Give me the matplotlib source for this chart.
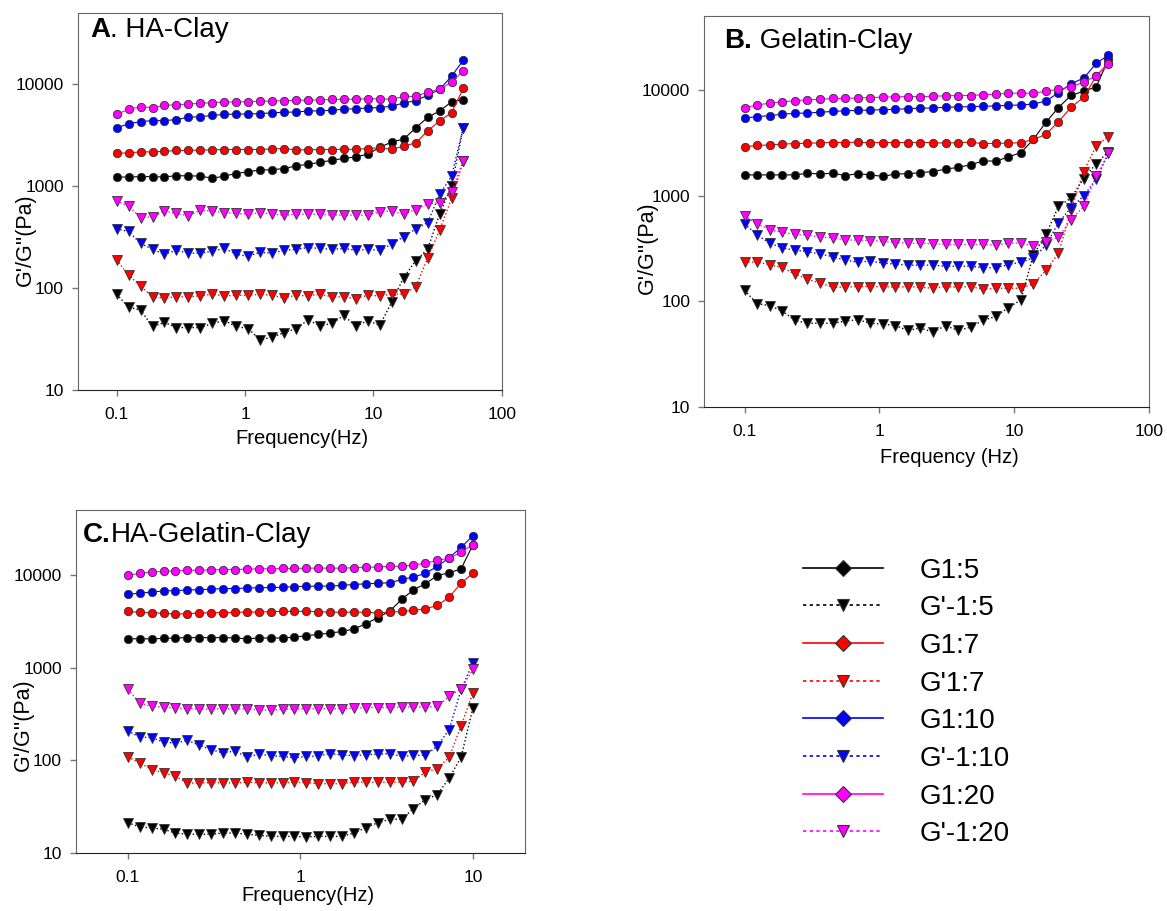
import matplotlib
matplotlib.use("Agg")
import matplotlib.pyplot as plt
from matplotlib.lines import Line2D
from matplotlib.ticker import NullLocator

plt.rcParams['font.family'] = ['Liberation Sans', 'DejaVu Sans']

# frequency sweeps (Hz)
freq_ab = [0.1, 0.1239, 0.1536, 0.1903, 0.2358, 0.2922, 0.3621, 0.4487, 0.5561, 0.6891,
           0.8539, 1.058, 1.311, 1.625, 2.013, 2.495, 3.092, 3.831, 4.748, 5.883,
           7.290, 9.034, 11.19, 13.87, 17.19, 21.30, 26.40, 32.71, 40.54, 50.0]
freq_c = [0.1, 0.1172, 0.1374, 0.1610, 0.1887, 0.2212, 0.2593, 0.3039, 0.3562, 0.4175,
          0.4894, 0.5736, 0.6723, 0.7880, 0.9237, 1.083, 1.269, 1.487, 1.743, 2.043,
          2.395, 2.807, 3.290, 3.857, 4.520, 5.298, 6.210, 7.279, 8.532, 10.0]

# A. HA-Clay
a_g_5 = [1230, 1230, 1240, 1240, 1230, 1270, 1260, 1260, 1190, 1260, 1330, 1390, 1440, 1450, 1490,
         1580, 1640, 1710, 1800, 1870, 1940, 2060, 2400, 2720, 2890, 3730, 4720, 5480, 6710, 7080]
a_gpp_5 = [87, 65, 61, 42, 46, 41, 41, 41, 45, 48, 42, 40, 31, 33, 36.5,
           40, 48.6, 42.7, 45, 54, 42, 48, 43, 73, 127, 185, 241, 531, 1007, 3760]
a_g_7 = [2100, 2120, 2170, 2170, 2200, 2240, 2240, 2260, 2270, 2290, 2290, 2290, 2290, 2320, 2340,
         2270, 2270, 2290, 2290, 2300, 2300, 2340, 2380, 2300, 2470, 2660, 3480, 4370, 5280, 9100]
a_gpp_7 = [190, 134, 105, 82, 80, 82, 82, 84, 87, 84, 85, 85, 87, 85, 80,
           85, 84, 87, 82, 82, 79, 85, 84, 87, 87, 103, 196, 370, 757, 1750]
a_g_10 = [3730, 4100, 4300, 4400, 4400, 4500, 4750, 4800, 4950, 5050, 5100, 5100, 5150, 5250, 5300,
          5350, 5450, 5500, 5550, 5700, 5750, 5850, 5900, 6100, 6550, 6900, 7800, 8900, 12000, 17200]
a_gpp_10 = [380, 360, 275, 240, 215, 235, 220, 220, 230, 245, 215, 205, 225, 220, 235,
            240, 250, 245, 240, 245, 235, 240, 235, 270, 320, 380, 440, 830, 1250, 3760]
a_g_20 = [5050, 5700, 6000, 5900, 6200, 6300, 6400, 6500, 6600, 6700, 6700, 6750, 6800, 6850, 6900,
          6950, 7000, 7000, 7100, 7100, 7150, 7200, 7200, 7100, 7600, 7600, 8400, 8900, 10500, 13500]
a_gpp_20 = [710, 640, 490, 500, 570, 540, 510, 580, 570, 550, 540, 530, 550, 530, 520,
            530, 530, 530, 520, 520, 520, 520, 560, 570, 530, 590, 670, 690, 880, 1770]

# B. Gelatin-Clay
b_g_5 = [1570, 1570, 1570, 1570, 1570, 1630, 1600, 1630, 1550, 1610, 1570, 1520, 1600, 1610, 1650,
         1690, 1780, 1850, 1960, 2130, 2120, 2320, 2550, 3400, 4950, 6800, 8900, 9700, 10700, 19400]
b_gpp_5 = [127, 95, 91, 81, 66, 62, 62, 62, 65, 67, 62, 61, 59, 53, 56,
           51, 59, 53, 57, 66, 72, 87, 103, 275, 430, 790, 950, 1450, 2000, 2600]
b_g_7 = [2900, 2980, 3020, 3070, 3110, 3130, 3160, 3180, 3180, 3200, 3160, 3180, 3180, 3180, 3180,
         3180, 3130, 3180, 3200, 3100, 3130, 3130, 3170, 3400, 3800, 5000, 6850, 8500, 13500, 18100]
b_gpp_7 = [235, 235, 222, 209, 181, 162, 149, 136, 136, 138, 138, 138, 136, 138, 136,
           133, 138, 136, 138, 130, 133, 133, 133, 146, 196, 285, 730, 1690, 2950, 3620]
b_g_10 = [5400, 5600, 5700, 5900, 6000, 6050, 6150, 6250, 6350, 6400, 6450, 6500, 6550, 6650, 6700,
          6750, 6850, 6900, 6950, 7000, 7050, 7150, 7200, 7350, 7850, 9400, 11500, 12900, 17800, 21400]
b_gpp_10 = [540, 425, 355, 320, 305, 295, 280, 265, 245, 235, 240, 230, 225, 220, 220,
            220, 215, 215, 215, 208, 208, 222, 235, 258, 340, 556, 770, 990, 1430, 2520]
b_g_20 = [6800, 7200, 7500, 7700, 7900, 8050, 8150, 8300, 8300, 8400, 8450, 8550, 8600, 8650, 8650,
          8700, 8800, 8850, 8850, 9000, 9100, 9300, 9300, 9300, 9750, 10100, 10700, 11800, 13600, 17400]
b_gpp_20 = [645, 540, 475, 450, 430, 425, 405, 400, 380, 380, 375, 370, 360, 355, 355,
            350, 345, 345, 345, 345, 340, 355, 355, 335, 365, 405, 590, 790, 1530, 2520]

# C. HA-Gelatin-Clay
c_g_5 = [2040, 2040, 2040, 2060, 2080, 2100, 2100, 2100, 2100, 2080, 2040, 2080, 2080, 2080, 2130,
         2200, 2280, 2350, 2450, 2600, 2970, 3450, 4050, 5420, 6890, 8000, 9820, 10500, 11600, 21100]
c_gpp_5 = [21.2, 19.1, 18.6, 18.0, 16.4, 15.9, 15.9, 15.9, 16.4, 16.4, 15.9, 15.5, 15.1, 15.1, 15.1,
           14.9, 15.1, 15.1, 15.1, 16.4, 18.8, 21.2, 23.1, 23.1, 30.1, 37.6, 42.5, 64.3, 108, 369]
c_g_7 = [4030, 3930, 3900, 3840, 3770, 3800, 3870, 3900, 3900, 3930, 3960, 3960, 4000, 4030, 4030,
         4030, 4000, 3950, 3950, 3950, 3950, 3890, 3950, 4020, 4120, 4300, 4670, 5740, 8120, 10400]
c_gpp_7 = [108, 94, 79, 73.5, 67, 56.8, 56.8, 57.3, 57.3, 56.8, 57.8, 57.3, 56.8, 57.3, 57.8,
           57.3, 55.9, 55.9, 55.9, 58.2, 57.8, 57.8, 57.8, 58.2, 59.3, 74.7, 81.1, 108, 234, 535]
c_g_10 = [6150, 6350, 6500, 6700, 6750, 6850, 6900, 7000, 7100, 7100, 7200, 7250, 7300, 7300, 7450,
          7500, 7550, 7550, 7700, 7850, 8000, 8100, 8200, 8900, 9450, 10400, 12300, 15300, 19700, 26500]
c_gpp_10 = [207, 178, 175, 157, 153, 164, 145, 130, 120, 126, 108, 116, 112, 110, 106,
            110, 111, 118, 114, 112, 115, 116, 118, 110, 113, 113, 142, 214, 580, 1130]
c_g_20 = [9850, 10400, 10700, 10900, 11000, 11200, 11200, 11300, 11400, 11400, 11500, 11600, 11600, 11700, 11700,
          11800, 11800, 11800, 11800, 11900, 12100, 12100, 12400, 12300, 12800, 13300, 14300, 15100, 17500, 21200]
c_gpp_20 = [580, 415, 380, 375, 365, 360, 357, 357, 360, 357, 357, 350, 345, 355, 355,
            360, 360, 360, 360, 365, 370, 370, 370, 375, 375, 375, 380, 490, 590, 955]

colors = ["black", "red", "blue", "magenta"]
legend_labels = ["G1:5", "G'-1:5", "G1:7", "G'1:7", "G1:10", "G'-1:10", "G1:20", "G'-1:20"]
edge = "#333333"


def draw_panel(ax, freq, g_list, gpp_list, xlim, xticks, bold, rest, title_xy, xlabel,
               xlabel_xy, ylabel_xy):
    for g, gpp, c in zip(g_list, gpp_list, colors):
        ax.plot(freq, gpp, ":", color=c, lw=1.0, marker="v", ms=6.5,
                mfc=c, mec=edge, mew=0.6)
        ax.plot(freq, g, "-", color=c, lw=0.8, marker="o", ms=6.0,
                mfc=c, mec=edge, mew=0.6)

    ax.set_xscale("log")
    ax.set_yscale("log")
    ax.set_xlim(*xlim)
    ax.set_ylim(10, 50000)
    ax.set_xticks(xticks)
    ax.set_xticklabels([f"{t:g}" for t in xticks])
    ax.set_yticks([10, 100, 1000, 10000])
    ax.set_yticklabels(["10", "100", "1000", "10000"])
    ax.xaxis.set_minor_locator(NullLocator())
    ax.yaxis.set_minor_locator(NullLocator())
    ax.tick_params(axis="x", direction="out", length=4, width=1, color="#777777",
                   labelsize=12.5, pad=8)
    ax.tick_params(axis="y", direction="out", length=4, width=1, color="#777777",
                   labelsize=12.5, pad=6)
    for side in ["top", "right", "left"]:
        ax.spines[side].set_color("#666666")
    ax.spines["bottom"].set_color("#222222")

    ax.set_xlabel(xlabel, fontsize=14.5)
    ax.xaxis.set_label_coords(*xlabel_xy)
    ax.set_ylabel("G'/G''(Pa)", fontsize=15.5)
    ax.yaxis.set_label_coords(*ylabel_xy)

    t = ax.text(title_xy[0], title_xy[1], bold, transform=ax.transAxes,
                fontsize=20, fontweight="bold", ha="left", va="top")
    ax.annotate(rest, xy=(1, 0), xycoords=t, fontsize=20, ha="left", va="bottom")


fig = plt.figure(figsize=(11.67, 9.11), dpi=100)

ax_a = fig.add_axes([0.0668, 0.5719, 0.3633, 0.4138])
draw_panel(ax_a, freq_ab, [a_g_5, a_g_7, a_g_10, a_g_20], [a_gpp_5, a_gpp_7, a_gpp_10, a_gpp_20],
           (0.05, 100), [0.1, 1, 10, 100], "A", ". HA-Clay", (0.028, 0.99),
           "Frequency(Hz)", (0.528, -0.103), (-0.099, 0.398))

ax_b = fig.add_axes([0.6033, 0.5532, 0.3813, 0.4292])
draw_panel(ax_b, freq_ab, [b_g_5, b_g_7, b_g_10, b_g_20], [b_gpp_5, b_gpp_7, b_gpp_10, b_gpp_20],
           (0.05, 100), [0.1, 1, 10, 100], "B.", " Gelatin-Clay", (0.045, 0.969),
           "Frequency (Hz)", (0.551, -0.105), (-0.103, 0.407))

ax_c = fig.add_axes([0.0651, 0.0637, 0.3847, 0.3765])
draw_panel(ax_c, freq_c, [c_g_5, c_g_7, c_g_10, c_g_20], [c_gpp_5, c_gpp_7, c_gpp_10, c_gpp_20],
           (0.05, 20), [0.1, 1, 10], "C.", "HA-Gelatin-Clay", (0.016, 0.965),
           "Frequency(Hz)", (0.517, -0.096), (-0.093, 0.373))

# legend
handles = []
for c in colors:
    handles.append(Line2D([], [], color=c, lw=1.2, ls="-", marker="D", ms=8,
                          mfc=c, mec=edge, mew=0.8))
    handles.append(Line2D([], [], color=c, lw=1.2, ls=(0, (2, 2)), marker="v", ms=9,
                          mfc=c, mec=edge, mew=0.8))
fig.legend(handles, legend_labels, loc="upper left", bbox_to_anchor=(0.688, 0.388),
           frameon=False, fontsize=20, handlelength=2.9, handletextpad=1.3,
           labelspacing=0.42, borderpad=0, borderaxespad=0)

fig.savefig("out.png", dpi=100)
